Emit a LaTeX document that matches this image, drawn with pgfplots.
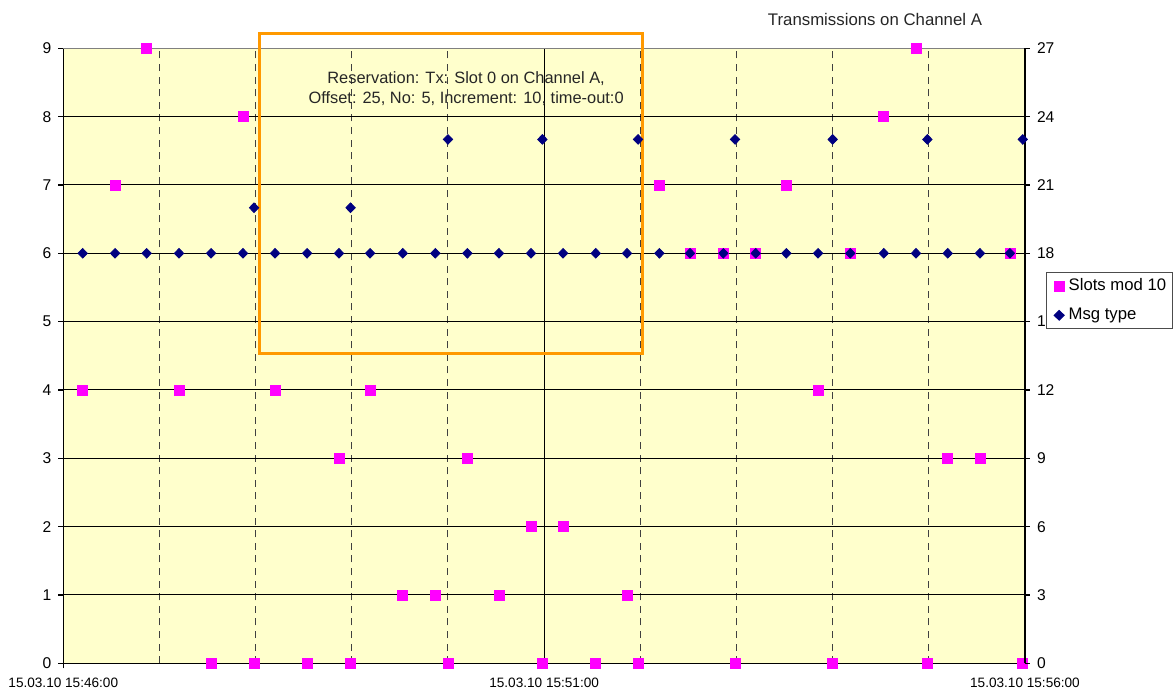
\documentclass[border=0pt]{standalone}
\usepackage{pgfplots}
\pgfplotsset{compat=1.18}
\usepackage{fontspec}
\setmainfont{Liberation Sans}
\definecolor{bgyellow}{HTML}{FFFFCC}
\definecolor{pinkm}{HTML}{FF00FF}
\definecolor{navym}{HTML}{000080}
\definecolor{boxorange}{HTML}{FF9900}

\begin{document}
\begin{tikzpicture}
\path[use as bounding box] (-31.65pt,-13.85pt) rectangle (555.35pt,331.65pt);
\begin{axis}[
  at={(0,0)}, anchor=south west, scale only axis,
  width=480.85pt, height=307.5pt,
  xmin=0, xmax=600, ymin=0, ymax=9,
  clip=false,
  axis background/.style={fill=bgyellow},
  xtick={0,300,600},
  xticklabels={15.03.10 15:46:00,15.03.10 15:51:00,15.03.10 15:56:00},
  minor xtick={60,120,180,240,360,420,480,540},
  ytick={0,1,...,9},
  xmajorgrids, ymajorgrids, xminorgrids,
  major grid style={black, line width=0.5pt},
  minor grid style={black!75, line width=0.5pt, dash pattern=on 3.5pt off 2.8pt},
  tick align=outside, major tick length=2.5pt, minor tick length=0pt,
  xtick pos=left, ytick pos=left,
  axis line style={black, line width=0.6pt},
  tick style={black, line width=0.6pt},
  xticklabel style={font=\fontsize{6.8}{8}\selectfont, yshift=-1.5pt},
  yticklabel style={font=\fontsize{7.8}{9}\selectfont},
  /pgf/number format/assume math mode=true,
]
\addplot[only marks, mark=square*, mark size=2.5pt, color=pinkm] coordinates {
(12.1,4)(32.3,7)(52.0,9)(72.2,4)(92.2,0)(112.1,8)(119.0,0)(132.1,4)(152.1,0)(172.0,3)
(179.2,0)(191.4,4)(211.8,1)(232.1,1)(240.0,0)(252.1,3)(271.8,1)(291.8,2)(298.9,0)(311.8,2)
(332.2,0)(351.7,1)(358.6,0)(371.9,7)(391.0,6)(411.8,6)(419.1,0)(432.0,6)(451.1,7)(470.9,4)
(480.0,0)(491.0,6)(511.9,8)(532.0,9)(539.1,0)(551.8,3)(571.9,3)(590.6,6)(598.6,0)
};
\draw[gray, line width=0.6pt] (rel axis cs:0,1) -- (rel axis cs:1,1);
\end{axis}
\begin{axis}[
  at={(0,0)}, anchor=south west, scale only axis,
  width=480.85pt, height=307.5pt,
  xmin=0, xmax=600, ymin=0, ymax=27,
  clip=false,
  hide x axis,
  axis y line*=right,
  ytick={0,3,...,27},
  tick align=outside, major tick length=2.5pt,
  axis line style={black, line width=0.6pt},
  tick style={black, line width=0.6pt},
  yticklabel style={font=\fontsize{7.8}{9}\selectfont},
  /pgf/number format/assume math mode=true,
  legend style={at={(axis description cs:1.0215,0.6358)}, anchor=north west,
    draw=black!70, line width=0.5pt, fill=white,
    font=\fontsize{8.35}{9.8}\selectfont, row sep=3.1pt, inner sep=1pt},
  legend cell align=left,
]
\addlegendimage{legend image code/.code={\path[draw=none] (0pt,0pt) -- (8pt,0pt); \fill[pinkm] (3pt,-2.5pt) rectangle (8pt,2.5pt);}}
\addlegendentry{Slots mod 10}
\addlegendimage{legend image code/.code={\path[draw=none] (0pt,0pt) -- (8pt,0pt); \fill[navym] (5.5pt,2.4pt) -- (8pt,0pt) -- (5.5pt,-2.4pt) -- (3pt,0pt) -- cycle;}}
\addlegendentry{Msg type}
\addplot[only marks, mark=diamond*, mark size=2.4pt, mark options={xscale=1.3}, color=navym, forget plot] coordinates {
(12.1,18)(32.3,18)(52.0,18)(72.2,18)(92.2,18)(112.1,18)(119.0,20)(132.1,18)(152.1,18)(172.0,18)
(179.2,20)(191.4,18)(211.8,18)(232.1,18)(240.0,23)(252.1,18)(271.8,18)(291.8,18)(298.9,23)(311.8,18)
(332.2,18)(351.7,18)(358.6,23)(371.9,18)(391.0,18)(411.8,18)(419.1,23)(432.0,18)(451.1,18)(470.9,18)
(480.0,23)(491.0,18)(511.9,18)(532.0,18)(539.1,23)(551.8,18)(571.9,18)(590.6,18)(598.6,23)
};
\draw[boxorange, line width=1.5pt] (axis cs:122.1,13.62) rectangle (axis cs:361.1,27.67);
\node[font=\fontsize{8.2}{10.15}\selectfont, align=center, text=black!85] at (axis cs:251.3,25.22)
  {Reservation: Tx: Slot 0 on Channel A,\\Offset: 25, No: 5, Increment: 10, time-out:0};
\end{axis}
\node[font=\fontsize{8.4}{10}\selectfont, text=black!85] at (405.85pt,321.65pt) {Transmissions on Channel A};
\end{tikzpicture}
\end{document}
